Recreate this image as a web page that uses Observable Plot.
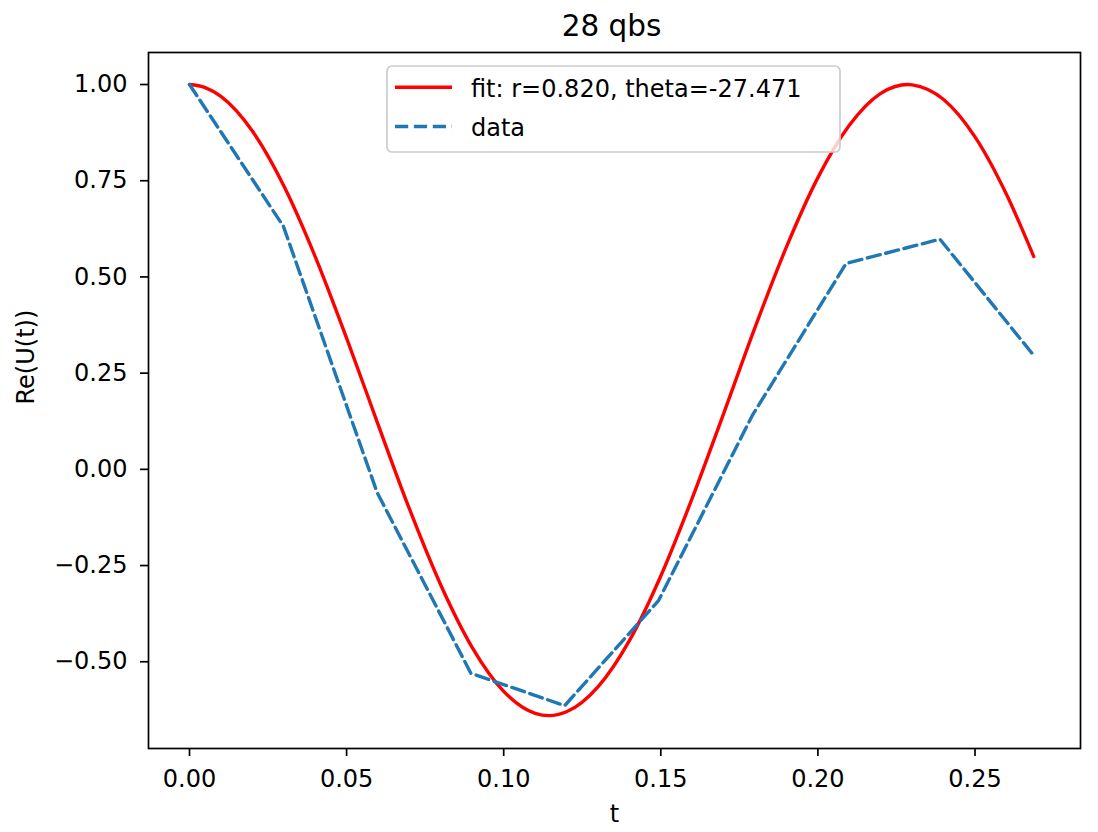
<!DOCTYPE html>
<html>
<head>
<meta charset="utf-8">
<script src="https://cdn.jsdelivr.net/npm/d3@7"></script>
<script src="https://cdn.jsdelivr.net/npm/@observablehq/plot@0.6"></script>
<style>
  html, body { margin: 0; padding: 0; background: #fff; }
  #chart svg { display: block; }
</style>
</head>
<body>
<div id="chart"></div>
<script>
// ---- data ----
const dataT = [0, 0.02986, 0.05971, 0.08957, 0.11942, 0.14928, 0.17913, 0.20899, 0.23884, 0.2687];
const dataV = [1.000, 0.632, -0.060, -0.530, -0.614, -0.341, 0.140, 0.535, 0.598, 0.296];

// fitted curve (r=0.820, theta=-27.471)
const fitT = [0, 0.005, 0.01, 0.02, 0.03, 0.04, 0.05, 0.06, 0.07, 0.08, 0.09, 0.10, 0.11, 0.1144, 0.12, 0.13, 0.14,
              0.15, 0.16, 0.17, 0.18, 0.19, 0.20, 0.21, 0.22, 0.2287, 0.23, 0.24, 0.25, 0.26, 0.2687];
const fitV = [1.000, 0.992, 0.969, 0.879, 0.737, 0.553, 0.341, 0.117, -0.103, -0.301, -0.463, -0.577, -0.634, -0.640, -0.630, -0.565, -0.445,
              -0.277, -0.075, 0.145, 0.369, 0.578, 0.758, 0.894, 0.977, 1.000, 0.999, 0.961, 0.864, 0.715, 0.553];

const xTicks = [0, 0.05, 0.10, 0.15, 0.20, 0.25];
const yTicks = [-0.50, -0.25, 0, 0.25, 0.50, 0.75, 1.00];

const titleText = "28 qbs";
const xLabel = "t";
const yLabel = "Re(U(t))";
const legendLabels = ["fit: r=0.820, theta=-27.471", "data"];
const fitColor = "#ff0000";
const dataColor = "#1f77b4";

const fitRows = fitT.map((t, i) => ({t, v: fitV[i]}));
const dataRows = dataT.map((t, i) => ({t, v: dataV[i]}));

const W = 1098, H = 832;
const mL = 148, mR = 18, mT = 52, mB = 84;

const svg = Plot.plot({
  width: W,
  height: H,
  marginLeft: mL,
  marginRight: mR,
  marginTop: mT,
  marginBottom: mB,
  style: {fontFamily: "'DejaVu Sans', sans-serif", fontSize: "24px", background: "#fff", color: "#000"},
  x: {domain: [-0.01305, 0.28358]},
  y: {domain: [-0.7254, 1.0832]},
  marks: [
    Plot.line(fitRows, {x: "t", y: "v", stroke: fitColor, strokeWidth: 3.4, curve: "monotone-x"}),
    Plot.line(dataRows, {x: "t", y: "v", stroke: dataColor, strokeWidth: 3.4, strokeDasharray: "13.2,5.7"}),
    Plot.frame({stroke: "#000", strokeWidth: 1.7}),
    Plot.axisX({ticks: xTicks, tickFormat: d3.format(".2f"), tickSize: 8, tickPadding: 13, label: null,
                fontSize: 24, strokeWidth: 1.7}),
    Plot.axisY({ticks: yTicks, tickFormat: d3.format(".2f"), tickSize: 8, tickPadding: 13, label: null,
                fontSize: 24, strokeWidth: 1.7}),
    Plot.text([titleText], {text: d => d, frameAnchor: "top", lineAnchor: "middle", dy: -25.5, dx: -3, fontSize: 29.5}),
    Plot.text([xLabel], {text: d => d, frameAnchor: "bottom", lineAnchor: "middle", dy: 66, fontSize: 24}),
    Plot.text([yLabel], {text: d => d, frameAnchor: "left", rotate: -90, lineAnchor: "middle", dx: -121.7, dy: 4, fontSize: 24})
  ]
});

// ---- legend (drawn inside the plot area, upper centre) ----
const lg = d3.select(svg).append("g")
  .attr("font-family", "'DejaVu Sans', sans-serif")
  .attr("font-size", 24)
  .attr("text-anchor", "start");
lg.append("rect")
  .attr("x", 387).attr("y", 66).attr("width", 453).attr("height", 86)
  .attr("rx", 5).attr("ry", 5)
  .attr("fill", "#fff").attr("fill-opacity", 0.8)
  .attr("stroke", "#cccccc").attr("stroke-width", 1.7);
const rows = [
  {label: legendLabels[0], color: fitColor, dash: null, ly: 87.3, by: 97},
  {label: legendLabels[1], color: dataColor, dash: "13.2,5.7", ly: 126.5, by: 136}
];
rows.forEach(r => {
  const ln = lg.append("line")
    .attr("x1", 395).attr("x2", 452).attr("y1", r.ly).attr("y2", r.ly)
    .attr("stroke", r.color).attr("stroke-width", 3.4);
  if (r.dash) ln.attr("stroke-dasharray", r.dash);
  lg.append("text").attr("x", 471).attr("y", r.by).attr("fill", "#000")
    .attr("text-anchor", "start").text(r.label);
});

document.getElementById("chart").appendChild(svg);
</script>
</body>
</html>
